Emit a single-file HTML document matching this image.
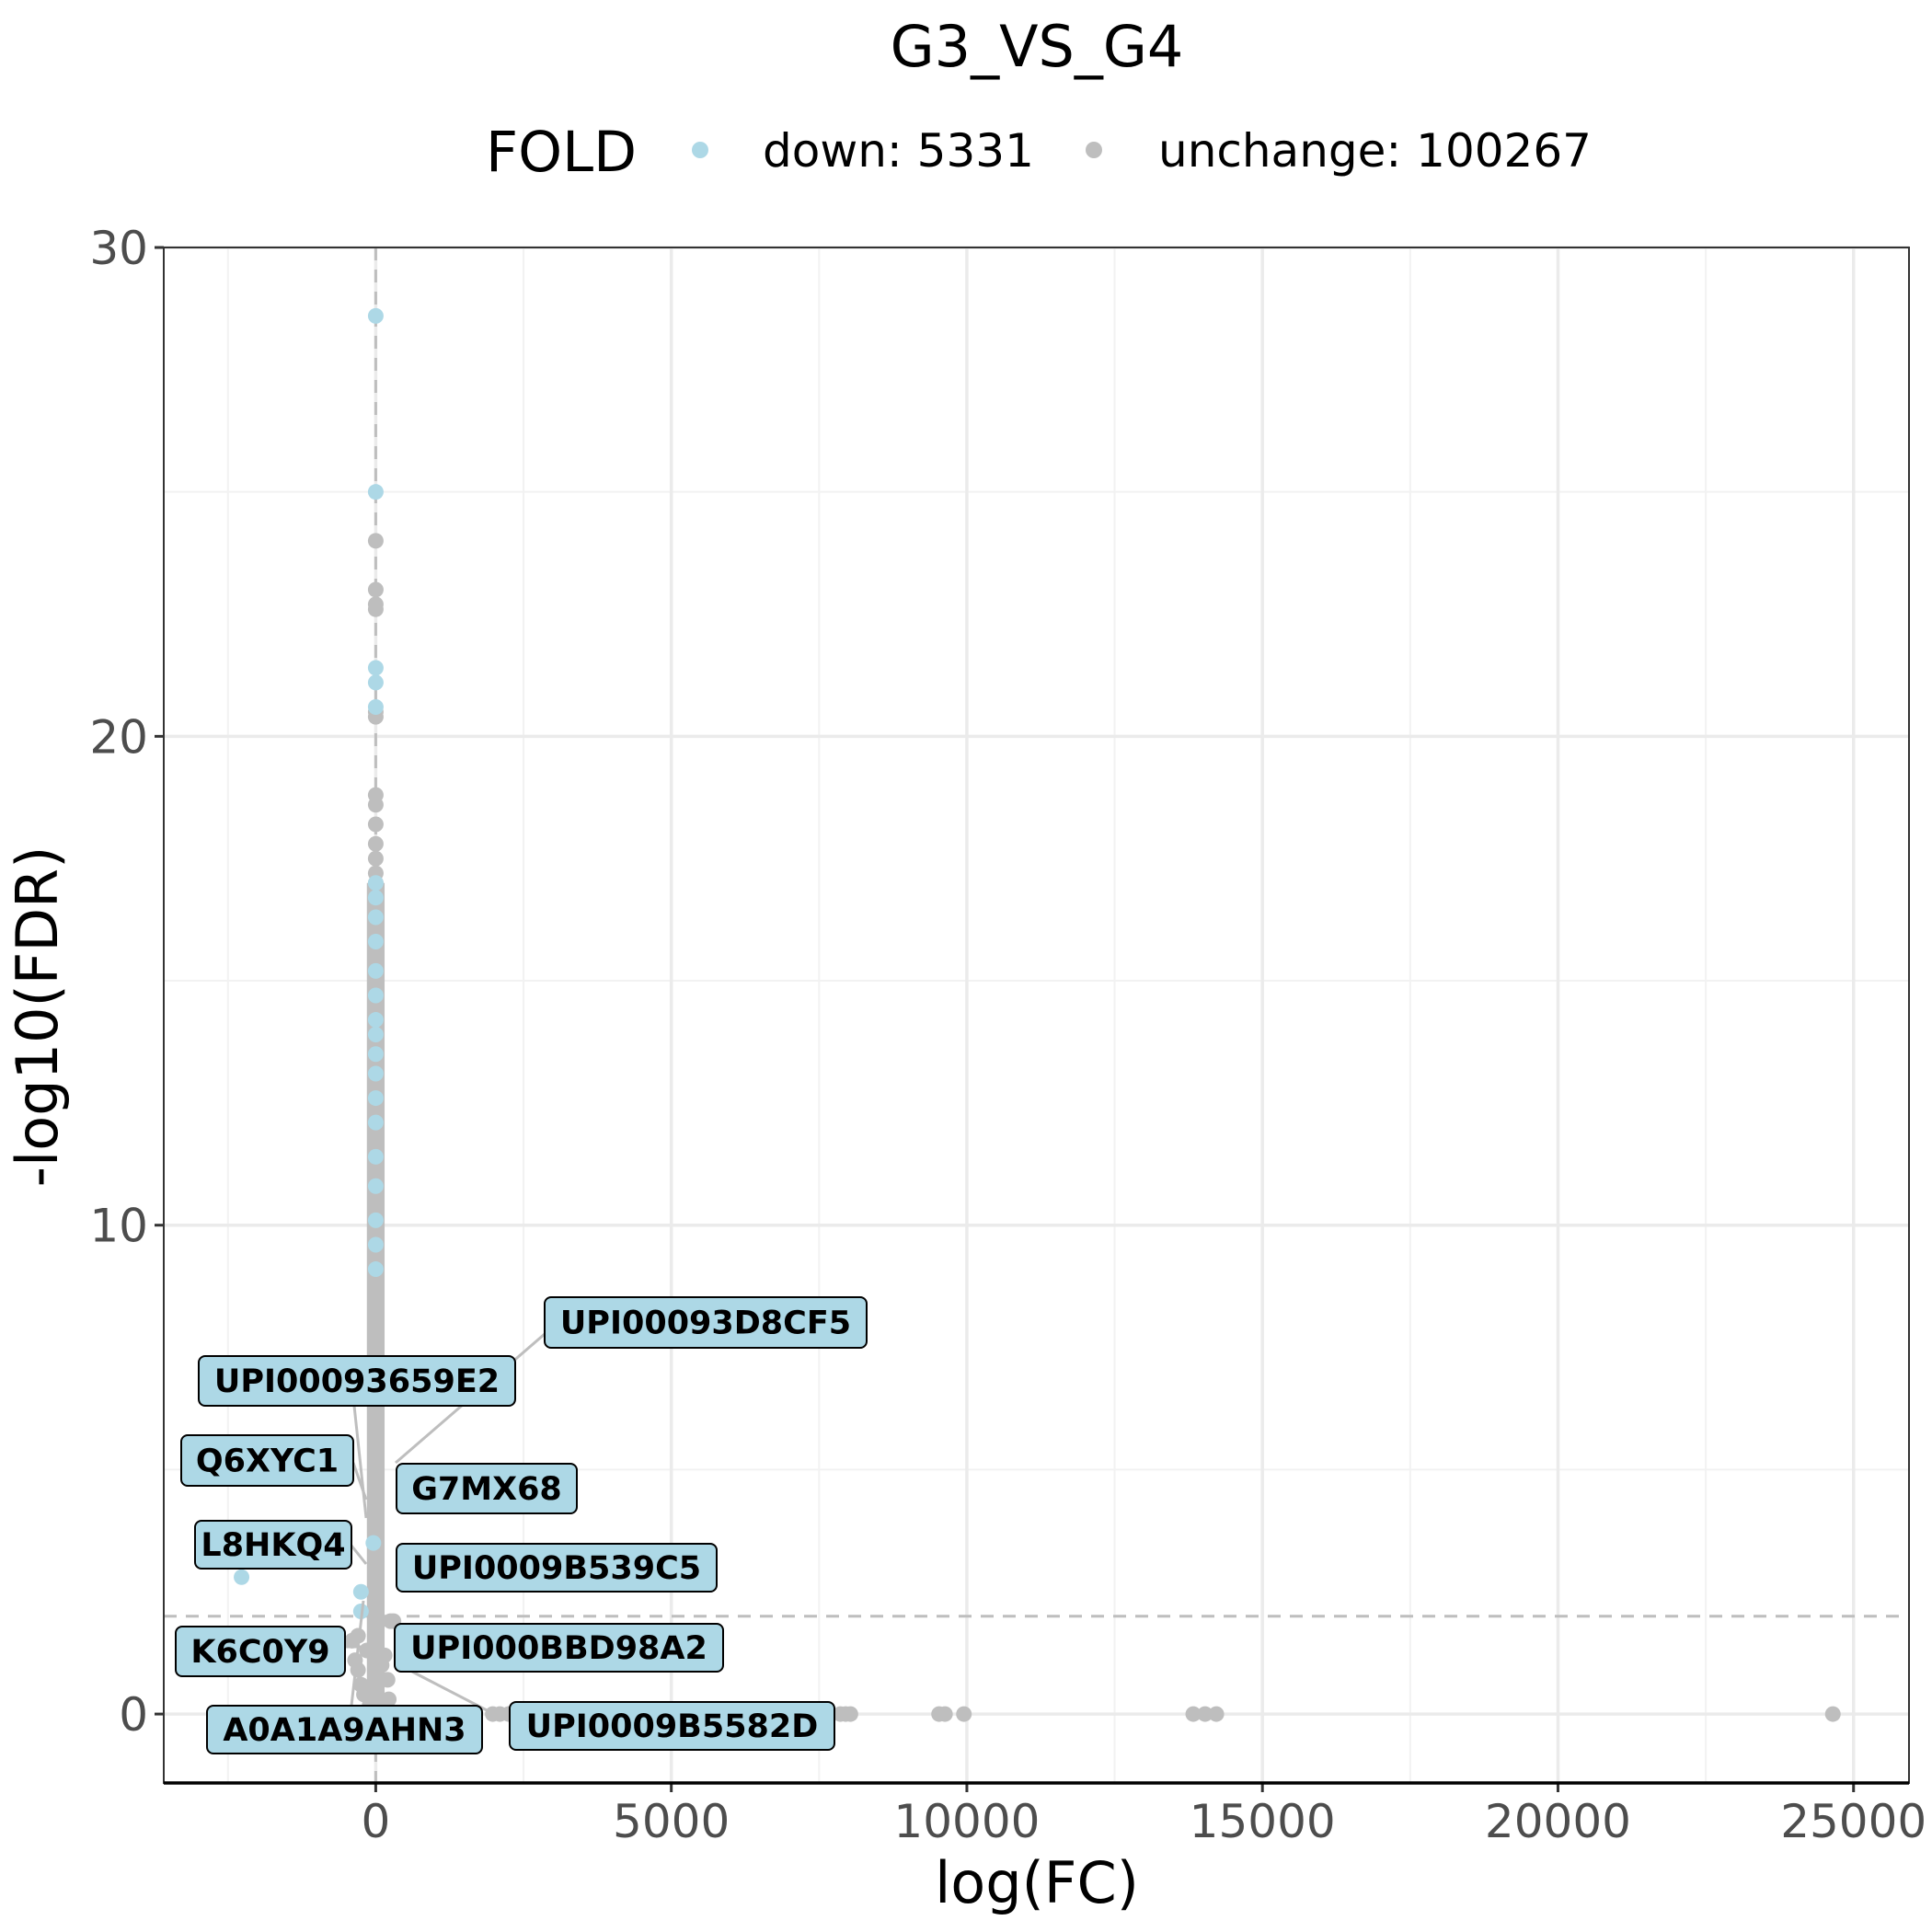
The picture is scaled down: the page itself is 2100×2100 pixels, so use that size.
<!DOCTYPE html>
<html><head><meta charset="utf-8"><style>
html,body{margin:0;padding:0;background:#fff;}
svg{display:block;font-family:"DejaVu Sans","Liberation Sans",sans-serif;}
</style></head><body>
<svg id="chart" width="2100" height="2100" viewBox="0 0 2100 2100" xmlns="http://www.w3.org/2000/svg">
<rect x="0" y="0" width="2100" height="2100" fill="#fff"/>
<text x="1127" y="72" font-size="62" text-anchor="middle" fill="#000">G3_VS_G4</text>
<g>
<text x="528" y="186" font-size="61" fill="#000">FOLD</text>
<circle cx="761" cy="163" r="9" fill="#ADD8E6"/>
<text x="829" y="181" font-size="50" fill="#000">down: 5331</text>
<circle cx="1189" cy="163" r="9" fill="#BEBEBE"/>
<text x="1259" y="181" font-size="50" fill="#000">unchange: 100267</text>
</g>
<g id="grid"></g>
<g id="refs"></g>
<g id="marks"></g>
<g id="labels"></g>
<g id="axes"></g>
<text x="1127" y="2068" font-size="62" text-anchor="middle" fill="#000">log(FC)</text>
<text x="0" y="0" font-size="62" text-anchor="middle" fill="#000" transform="translate(62,1105) rotate(-90)">-log10(FDR)</text>
</svg>
<script>
const xTicks = [0, 5000, 10000, 15000, 20000, 25000];
const xTickLabels = ["0", "5000", "10000", "15000", "20000", "25000"];
const yTicks = [0, 10, 20, 30];
const yTickLabels = ["0", "10", "20", "30"];
const fdrThreshold = 2;
const fcThreshold = 0;
// down (blue) points
const downX = [0, 0, 0, 0, 0, 0, 0, 0, 0, 0, 0, 0, 0, 0, 0, 0, 0, 0, 0, 0, 0, 0, -2270, -250, -250, -40];
const downY = [28.6, 25.0, 21.4, 21.1, 20.6, 17.0, 16.7, 16.3, 15.8, 15.2, 14.7, 14.2, 13.9, 13.5, 13.1, 12.6, 12.1, 11.4, 10.8, 10.1, 9.6, 9.1, 2.8, 2.5, 2.1, 3.5];
// unchanged (gray) points
const unX = [0, 0, 0, 0, 0, 0, 0, 0, 0, 0, 0, 0, 0, 0, 0, 0, 0, 0, 0, 0, 0, 0, 0, 0, 0, 0, 0, 0, 0, 0, 0, 0, 0, 0, 0, 0, 0, 0, 0, 0, 0, 0, 0, 0, 0, 0, 0, 0, 0, 0, 0, 0, 0, 0, 0, 0, 0, 0, 0, 0, 0, 0, 0, 0, 0, 0, 0, 0, 0, 0,
  -400, -350, -300, -250, -200, -150, -300, 200, 250, 150, 300, 220, -100, 100,
  1980, 2100, 2250, 7860, 7950, 8030, 9530, 9630, 9950, 13830, 14030, 14220, 24650];
const unY = [24.0, 23.0, 22.7, 22.6, 20.5, 20.4, 18.8, 18.6, 18.2, 17.8, 17.5, 17.2, 17.0, 16.6, 16.4, 16.0, 15.7, 15.5, 15.2, 14.9, 14.6, 14.3, 14.0, 13.7, 13.4, 13.1, 12.8, 12.5, 12.2, 11.9, 11.6, 11.3, 11.0, 10.7, 10.4, 10.1, 9.8, 9.5, 9.2, 8.9, 8.6, 8.3, 8.0, 7.7, 7.4, 7.1, 6.8, 6.5, 6.2, 5.9, 5.6, 5.3, 5.0, 4.7, 4.4, 4.1, 3.8, 3.5, 3.2, 2.9, 2.6, 2.3, 2.0, 1.7, 1.4, 1.1, 0.8, 0.5, 0.2, 0.0,
  1.5, 1.1, 0.9, 0.6, 0.4, 1.3, 1.6, 0.7, 1.9, 1.2, 1.9, 0.3, 0.2, 1.0,
  0, 0, 0, 0, 0, 0, 0, 0, 0, 0, 0, 0, 0];

const L = 178, R = 2075, T = 269, B = 1938;
const xMin = -3586, xMax = 25938, yMin = -1.41, yMax = 30;
const sx = v => L + (v - xMin) / (xMax - xMin) * (R - L);
const sy = v => B - (v - yMin) / (yMax - yMin) * (B - T);
const NS = "http://www.w3.org/2000/svg";
function mk(tag, attrs, parent) {
  const e = document.createElementNS(NS, tag);
  for (const k in attrs) e.setAttribute(k, attrs[k]);
  parent.appendChild(e);
  return e;
}
const grid = document.getElementById('grid');
const refs = document.getElementById('refs');
const marks = document.getElementById('marks');
const axes = document.getElementById('axes');
const labelsG = document.getElementById('labels');

for (let i = -1; i < xTicks.length; i++) {
  const v = (i < 0 ? xTicks[0] - 2500 : xTicks[i] + 2500);
  if (v < xMin || v > xMax) continue;
  const g = mk('line', {x1: sx(v), x2: sx(v), y1: T, y2: B, stroke: '#f2f2f2', 'stroke-width': 2}, grid);
  
  
}
for (let i = 0; i < yTicks.length; i++) {
  const v = yTicks[i] + 5;
  if (v > yMax) continue;
  const g = mk('line', {x1: L, x2: R, y1: sy(v), y2: sy(v), stroke: '#f2f2f2', 'stroke-width': 2}, grid);
  
  
}
xTicks.forEach((v, i) => {
  const g = mk('line', {x1: sx(v), x2: sx(v), y1: T, y2: B, stroke: '#ebebeb', 'stroke-width': 3.5}, grid);
  
  
  const t = mk('line', {x1: sx(v), x2: sx(v), y1: B, y2: B + 10, stroke: '#333', 'stroke-width': 3}, axes);
  
  
  const lb = mk('text', {x: sx(v), y: B + 59, 'font-size': 50, 'text-anchor': 'middle', fill: '#4d4d4d'}, axes);
  lb.textContent = xTickLabels[i];
  
  
});
yTicks.forEach((v, i) => {
  const g = mk('line', {x1: L, x2: R, y1: sy(v), y2: sy(v), stroke: '#ebebeb', 'stroke-width': 3.5}, grid);
  
  
  const t = mk('line', {x1: L - 10, x2: L, y1: sy(v), y2: sy(v), stroke: '#333', 'stroke-width': 3}, axes);
  
  
  const lb = mk('text', {x: L - 17, y: sy(v) + 18, 'font-size': 50, 'text-anchor': 'end', fill: '#4d4d4d'}, axes);
  lb.textContent = yTickLabels[i];
  
  
});
const hl = mk('line', {x1: L, x2: R, y1: sy(fdrThreshold), y2: sy(fdrThreshold), stroke: '#BEBEBE', 'stroke-width': 3, 'stroke-dasharray': '14 10'}, refs);


const vl = mk('line', {x1: sx(fcThreshold), x2: sx(fcThreshold), y1: T, y2: B, stroke: '#BEBEBE', 'stroke-width': 3, 'stroke-dasharray': '14 10'}, refs);



const col = mk('rect', {x: sx(-150), y: sy(17.0), width: sx(150) - sx(-150), height: sy(0) - sy(17.0), fill: '#BEBEBE'}, marks);



const conns = [[592,1450,430,1590],[385,1528,398,1650],[384,1590,398,1630],[382,1680,398,1700],[375,1790,398,1790],[448,1817,535,1862],[382,1854,395,1740]];
conns.forEach(c => {
  const l = mk('line', {x1: c[0], y1: c[1], x2: c[2], y2: c[3], stroke: '#BEBEBE', 'stroke-width': 3}, labelsG);
  
  
});

for (let i = 0; i < unX.length; i++) {
  const c = mk('circle', {cx: sx(unX[i]), cy: sy(unY[i]), r: 8.5, fill: '#BEBEBE'}, marks);
  
  
}
for (let i = 0; i < downX.length; i++) {
  const c = mk('circle', {cx: sx(downX[i]), cy: sy(downY[i]), r: 8.5, fill: '#ADD8E6'}, marks);
  
  
}

const boxes = [
  ["UPI00093D8CF5", 592, 1410, 942, 1465],
  ["UPI00093659E2", 216, 1474, 560, 1528],
  ["Q6XYC1", 197, 1560, 384, 1615],
  ["G7MX68", 431, 1591, 627, 1645],
  ["L8HKQ4", 212, 1653, 382, 1705],
  ["UPI0009B539C5", 431, 1678, 779, 1730],
  ["K6C0Y9", 191, 1768, 375, 1822],
  ["UPI000BBD98A2", 429, 1765, 786, 1817],
  ["A0A1A9AHN3", 225, 1854, 524, 1906],
  ["UPI0009B5582D", 554, 1850, 907, 1902]
];
boxes.forEach(b => {
  const r = mk('rect', {x: b[1], y: b[2], width: b[3] - b[1], height: b[4] - b[2], rx: 7, fill: '#ADD8E6', stroke: '#000', 'stroke-width': 2}, labelsG);
  
  
  const t = mk('text', {x: (b[1] + b[3]) / 2, y: (b[2] + b[4]) / 2 + 12, 'font-size': 35, 'font-weight': 'bold', 'text-anchor': 'middle', fill: '#000'}, labelsG);
  t.textContent = b[0];
  
  
});

const border = mk('rect', {x: L, y: T, width: R - L, height: B - T, fill: 'none', stroke: '#333', 'stroke-width': 2}, axes);


const xa = mk('line', {x1: L, x2: R, y1: B, y2: B, stroke: '#000', 'stroke-width': 3.5}, axes);


</script>
</body></html>
